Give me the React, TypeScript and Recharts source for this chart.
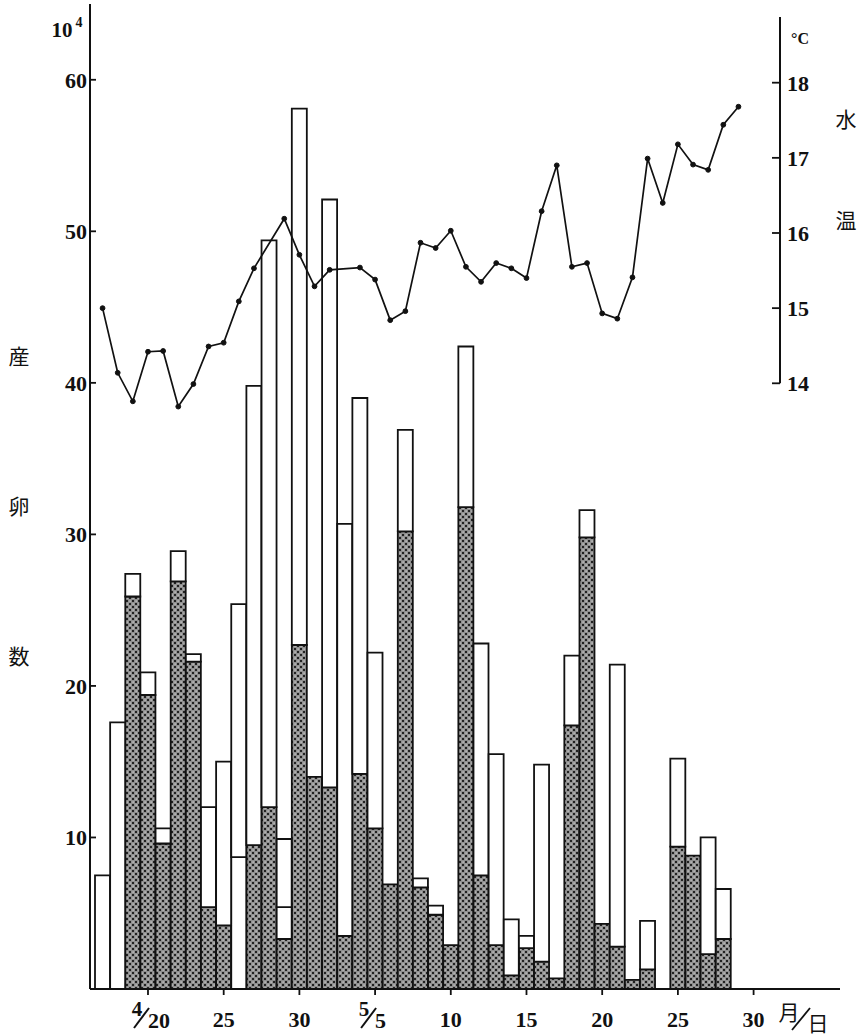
import React from 'react';
import { ComposedChart, Bar, Line, XAxis, YAxis, Cell } from 'recharts';

// days 4/17 .. 6/4, one slot per day
const dates = [
  '4/17', '4/18', '4/19', '4/20', '4/21', '4/22', '4/23', '4/24', '4/25', '4/26',
  '4/27', '4/28', '4/29', '4/30', '5/1', '5/2', '5/3', '5/4', '5/5', '5/6',
  '5/7', '5/8', '5/9', '5/10', '5/11', '5/12', '5/13', '5/14', '5/15', '5/16',
  '5/17', '5/18', '5/19', '5/20', '5/21', '5/22', '5/23', '5/24', '5/25', '5/26',
  '5/27', '5/28', '5/29', '5/30', '5/31', '6/1', '6/2', '6/3', '6/4',
];

// 産卵数 (x10^4): total per day, shaded part, and an extra divider line where drawn
const eggsTotal = [
  7.5, 17.6, 27.4, 20.9, 10.6, 28.9, 22.1, 12.0, 15.0, 25.4,
  39.8, 49.4, 9.9, 58.1, 14.0, 52.1, 30.7, 39.0, 22.2, 6.9,
  36.9, 7.3, 5.5, 2.9, 42.4, 22.8, 15.5, 4.6, 3.5, 14.8,
  0.7, 22.0, 31.6, 4.3, 21.4, 0.6, 4.5, null, 15.2, 8.8,
  10.0, 6.6, null, null, null, null, null, null, null,
];
const eggsShaded = [
  null, null, 25.9, 19.4, 9.6, 26.9, 21.6, 5.4, 4.2, null,
  9.5, 12.0, 3.3, 22.7, 14.0, 13.3, 3.5, 14.2, 10.6, 6.9,
  30.2, 6.7, 4.9, 2.9, 31.8, 7.5, 2.9, 0.9, 2.7, 1.8,
  0.7, 17.4, 29.8, 4.3, 2.8, 0.6, 1.3, null, 9.4, 8.8,
  2.3, 3.3, null, null, null, null, null, null, null,
];
const eggsDivider: (number | null)[] = dates.map(() => null);
eggsDivider[9] = 8.7;
eggsDivider[12] = 5.4;

// 水温 (°C)
const waterTemp = [
  15.0, 14.14, 13.76, 14.42, 14.43, 13.69, 13.99, 14.49, 14.54, 15.09,
  15.53, null, 16.19, 15.71, 15.29, 15.51, null, 15.54, 15.38, 14.84,
  14.96, 15.87, 15.8, 16.03, 15.55, 15.35, 15.6, 15.53, 15.4, 16.29,
  16.9, 15.55, 15.6, 14.93, 14.86, 15.41, 16.99, 16.4, 17.18, 16.91,
  16.84, 17.44, 17.68, null, null, null, null, null, null,
];

const tickDates = ['4/20', '4/25', '4/30', '5/5', '5/10', '5/15', '5/20', '5/25', '5/30'];
const tickLabels = ['4/20', '25', '30', '5/5', '10', '15', '20', '25', '30'];
const eggTicks = [10, 20, 30, 40, 50, 60];
const tempTicks = [14, 15, 16, 17, 18];

const W = 861;
const H = 1036;
const SLOT = 15.14;
const FONT = '"Liberation Serif", "DejaVu Serif", serif';
const CJK = '"Noto Sans CJK JP", "Noto Sans CJK SC", sans-serif';
const INK = '#111';

const rows = dates.map((date, i) => {
  const total = eggsTotal[i];
  const shade = eggsShaded[i] ?? 0;
  const div = eggsDivider[i];
  const mid = div != null ? div - shade : 0;
  const top = total != null ? total - Math.max(shade, div ?? 0) : null;
  return { date, shade: eggsShaded[i], mid: mid || null, top, temp: waterTemp[i] };
});
const tempRows = rows.slice(0, 45);

const EggTick = ({ x, y, payload }: any) => (
  <g>
    <line x1={x} x2={x + 6} y1={y} y2={y} stroke={INK} strokeWidth={1.8} />
    <text x={x - 3} y={y + 8} textAnchor="end" fontFamily={FONT} fontWeight="bold" fontSize={22} fill={INK}>
      {payload.value}
    </text>
  </g>
);

const TempTick = ({ x, y, payload }: any) => (
  <g>
    <line x1={x - 8} x2={x} y1={y} y2={y} stroke={INK} strokeWidth={1.8} />
    <text x={x + 7} y={y + 8} textAnchor="start" fontFamily={FONT} fontWeight="bold" fontSize={22} fill={INK}>
      {payload.value}
    </text>
  </g>
);

const DateTick = ({ x, y, payload }: any) => {
  const label = tickLabels[tickDates.indexOf(payload.value)];
  if (label && label.includes('/')) {
    const [m, d] = label.split('/');
    return (
      <g fontFamily={FONT} fontWeight="bold" fill={INK}>
        <text x={x - 11} y={y + 21} textAnchor="middle" fontSize={21}>{m}</text>
        <line x1={x - 14} y1={y + 33} x2={x + 1} y2={y + 13} stroke={INK} strokeWidth={2} />
        <text x={x} y={y + 33} textAnchor="start" fontSize={22}>{d}</text>
      </g>
    );
  }
  return (
    <text x={x} y={y + 32} textAnchor="middle" fontFamily={FONT} fontWeight="bold" fontSize={22} fill={INK}>
      {label}
    </text>
  );
};

export default function App() {
  const padA = 750 - 5 - dates.length * SLOT;
  const padB = 690 - 5 - tempRows.length * SLOT;
  return (
    <div style={{ position: 'absolute', left: 0, top: 0, width: W, height: H, background: '#fff' }}>
      {/* the temperature line dips below the 14° end of its axis, so don't clip it */}
      <style>{'.temp-chart [clip-path] { clip-path: none !important; }'}</style>
      <div style={{ position: 'absolute', left: 0, top: 0 }}>
        <ComposedChart
          width={W}
          height={H}
          data={rows}
          margin={{ top: 4, right: 21, bottom: 7, left: 0 }}
          barCategoryGap={0}
          barGap={0}
        >
          <defs>
            <pattern id="stipple" width="6" height="6" patternUnits="userSpaceOnUse">
              <rect width="6" height="6" fill="#8f8f8f" />
              <rect x="0" y="0" width="2" height="2" fill="#222" />
              <rect x="3" y="3" width="2" height="2" fill="#222" />
              <rect x="3.5" y="0.5" width="1.2" height="1.2" fill="#d8d8d8" />
              <rect x="0.5" y="3.5" width="1.2" height="1.2" fill="#d8d8d8" />
            </pattern>
          </defs>
          <XAxis
            dataKey="date"
            ticks={tickDates}
            interval={0}
            height={40}
            padding={{ left: 5, right: padA }}
            axisLine={{ stroke: INK, strokeWidth: 2 }}
            tickLine={{ stroke: INK, strokeWidth: 1.8 }}
            tickSize={6}
            tickMargin={0}
            tick={<DateTick />}
          />
          <YAxis
            width={90}
            domain={[0, 65]}
            ticks={eggTicks}
            allowDataOverflow
            axisLine={{ stroke: INK, strokeWidth: 2 }}
            tickLine={false}
            tickSize={0}
            tickMargin={0}
            tick={<EggTick />}
          />
          <Bar dataKey="shade" stackId="e" stroke={INK} strokeWidth={1.8} isAnimationActive={false}>
            {rows.map((_, i) => <Cell key={`s-${i}`} fill="url(#stipple)" />)}
          </Bar>
          <Bar dataKey="mid" stackId="e" stroke={INK} strokeWidth={1.8} isAnimationActive={false}>
            {rows.map((_, i) => <Cell key={`m-${i}`} fill="#fff" />)}
          </Bar>
          <Bar dataKey="top" stackId="e" stroke={INK} strokeWidth={1.8} isAnimationActive={false}>
            {rows.map((_, i) => <Cell key={`t-${i}`} fill="#fff" />)}
          </Bar>
        </ComposedChart>
      </div>

      <div className="temp-chart" style={{ position: 'absolute', left: 0, top: 0, pointerEvents: 'none' }}>
        <ComposedChart
          width={W}
          height={H}
          data={tempRows}
          margin={{ top: 17, right: 21, bottom: H - 383.3, left: 90 }}
          style={{ overflow: 'visible' }}
        >
          <XAxis dataKey="date" hide scale="band" padding={{ left: 5, right: padB }} />
          <YAxis
            orientation="right"
            width={60}
            domain={[14, 18.874]}
            ticks={tempTicks}
            allowDataOverflow
            axisLine={{ stroke: INK, strokeWidth: 2 }}
            tickLine={false}
            tickSize={0}
            tickMargin={0}
            tick={<TempTick />}
          />
          <Line
            dataKey="temp"
            connectNulls
            stroke={INK}
            strokeWidth={1.7}
            dot={{ r: 2.4, fill: INK, stroke: INK, strokeWidth: 1 }}
            isAnimationActive={false}
          />
        </ComposedChart>
      </div>

      <svg width={W} height={H} style={{ position: 'absolute', left: 0, top: 0, pointerEvents: 'none' }}>
        <g fill={INK} fontWeight="bold">
          <text x={62} y={37} textAnchor="middle" fontFamily={FONT} fontSize={21}>10</text>
          <text x={79} y={27} textAnchor="middle" fontFamily={FONT} fontSize={14}>4</text>
          <text x={800} y={44} textAnchor="middle" fontFamily={FONT} fontSize={16}>°C</text>
        </g>
        <g fill={INK}>
          <text x={846} y={127} textAnchor="middle" fontFamily={CJK} fontSize={21}>水</text>
          <text x={846} y={228} textAnchor="middle" fontFamily={CJK} fontSize={21}>温</text>
          <text x={19} y={364} textAnchor="middle" fontFamily={CJK} fontSize={21}>産</text>
          <text x={19} y={514} textAnchor="middle" fontFamily={CJK} fontSize={21}>卵</text>
          <text x={19} y={664} textAnchor="middle" fontFamily={CJK} fontSize={21}>数</text>
          <text x={789} y={1020} textAnchor="middle" fontFamily={CJK} fontSize={21}>月</text>
          <line x1={792} y1={1030} x2={810} y2={1008} stroke={INK} strokeWidth={1.8} />
          <text x={818} y={1031} textAnchor="middle" fontFamily={CJK} fontSize={21}>日</text>
        </g>
      </svg>
    </div>
  );
}
